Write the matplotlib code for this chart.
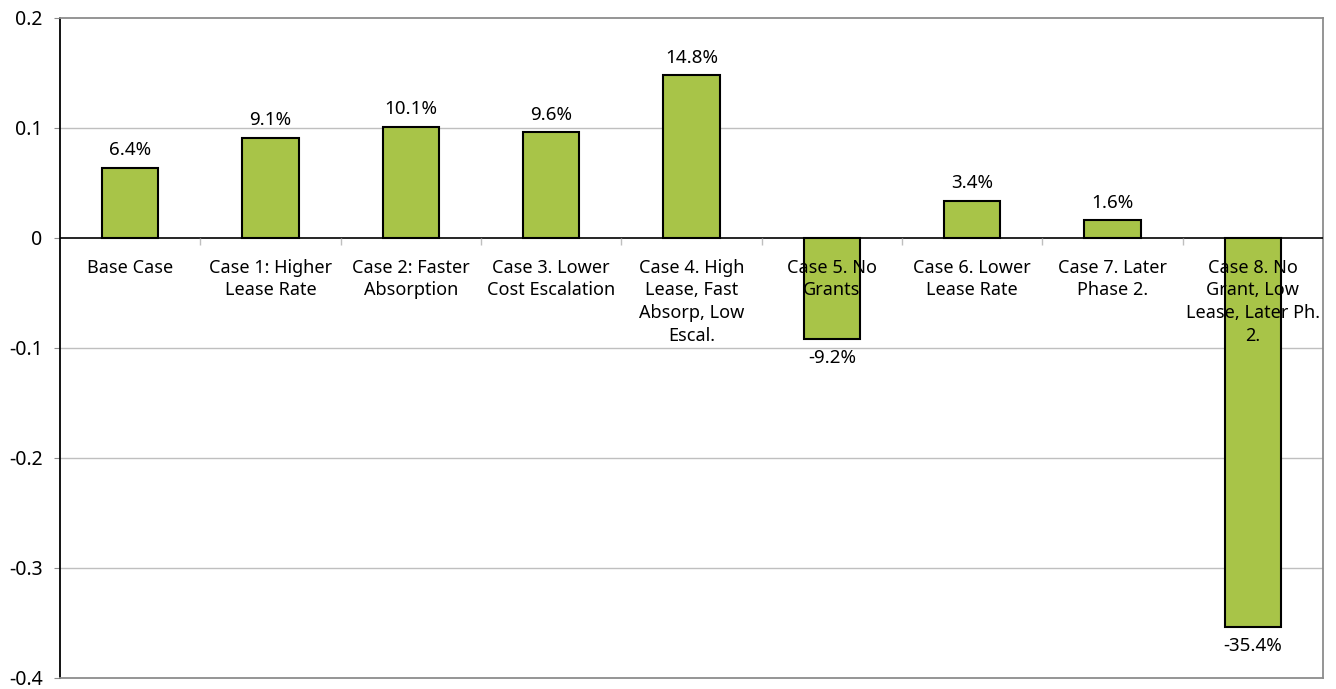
import matplotlib
matplotlib.use('Agg')
import matplotlib.pyplot as plt
import numpy as np

plt.rcParams['font.family'] = ['Noto Sans', 'DejaVu Sans']

cases = ['Base Case', 'Case 1: Higher\nLease Rate', 'Case 2: Faster\nAbsorption',
         'Case 3. Lower\nCost Escalation', 'Case 4. High\nLease, Fast\nAbsorp, Low\nEscal.',
         'Case 5. No\nGrants', 'Case 6. Lower\nLease Rate', 'Case 7. Later\nPhase 2.',
         'Case 8. No\nGrant, Low\nLease, Later Ph.\n2.']
irr = [0.064, 0.091, 0.101, 0.096, 0.148, -0.092, 0.034, 0.016, -0.354]
yticks = [-0.4, -0.3, -0.2, -0.1, 0, 0.1, 0.2]
ytick_labels = ['-0.4', '-0.3', '-0.2', '-0.1', '0', '0.1', '0.2']

bar_color = '#A8C448'
grid_color = '#BFBFBF'
frame_color = '#8C8C8C'
fs = 13

fig = plt.figure(figsize=(13.36, 6.89), dpi=100)
ax = fig.add_axes([0.0449, 0.016, 0.9454, 0.958])

x = np.arange(len(cases))
ax.bar(x, irr, width=0.4, color=bar_color, edgecolor='black', linewidth=1.5, zorder=2)

ax.set_xlim(-0.5, len(cases) - 0.5)
ax.set_ylim(-0.4, 0.2)
ax.set_yticks(yticks)
ax.set_yticklabels(ytick_labels, fontsize=14)
ax.set_xticks([])
ax.tick_params(axis='y', length=4.5, color=frame_color, pad=8)

for y in yticks[1:-1]:
    if y != 0:
        ax.axhline(y, color=grid_color, linewidth=1, zorder=1)
ax.axhline(0, color='black', linewidth=1.2, zorder=3)

# small tick marks on the zero line between categories
bounds = np.arange(len(cases) - 1) + 0.5
ax.plot(bounds, np.zeros_like(bounds), ls='none', marker=3, ms=5,
        mew=1, color=grid_color, zorder=3)

for side in ['top', 'right', 'bottom']:
    ax.spines[side].set_color(frame_color)
    ax.spines[side].set_linewidth(1.3)
ax.spines['left'].set_color('black')
ax.spines['left'].set_linewidth(1.3)

for xi, v, name in zip(x, irr, cases):
    ax.annotate(name, (xi, 0), xytext=(0, -15), textcoords='offset points',
                ha='center', va='top', fontsize=fs, linespacing=1.33, zorder=4)
    if v >= 0:
        ax.annotate(f'{v*100:.1f}%', (xi, v), xytext=(0, 6), textcoords='offset points',
                    ha='center', va='bottom', fontsize=13.5, zorder=4)
    else:
        ax.annotate(f'{v*100:.1f}%', (xi, v), xytext=(0, -7), textcoords='offset points',
                    ha='center', va='top', fontsize=13.5, zorder=4)

fig.savefig('out.png', dpi=100)
